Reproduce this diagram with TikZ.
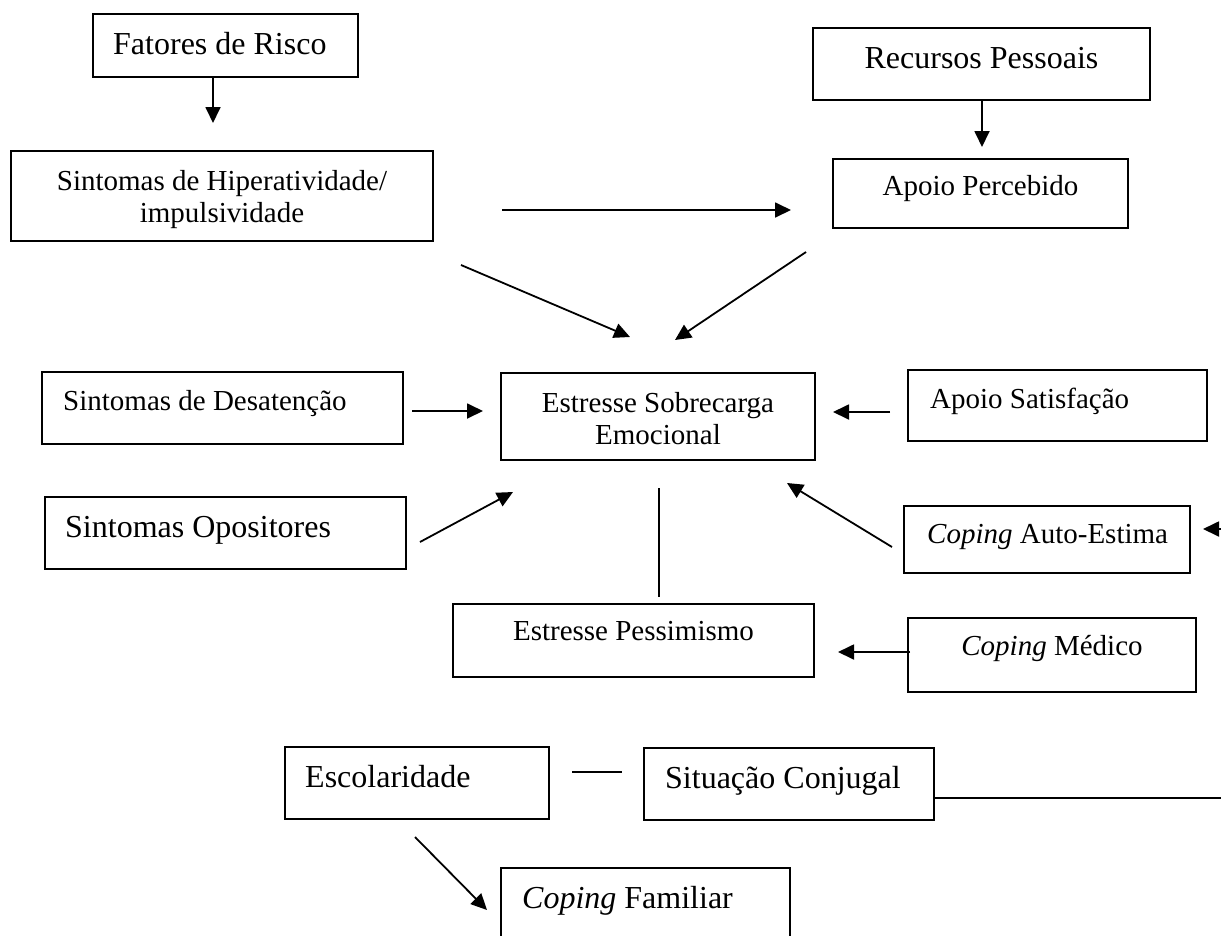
\documentclass[tikz,border=0pt]{standalone}
\usepackage{fontspec}
\setmainfont{Liberation Serif}
\usetikzlibrary{arrows.meta}
\tikzset{
  box/.style={draw, rectangle, line width=1.9pt, inner sep=0pt},
  big/.style={font=\fontsize{32}{38}\selectfont, inner sep=0pt},
  small/.style={font=\fontsize{29}{34}\selectfont, inner sep=0pt},
  conn/.style={line width=1.8pt, -{Triangle[length=16pt,width=15pt]}},
  plainline/.style={line width=1.8pt}
}
\begin{document}
\begin{tikzpicture}[x=1pt,y=-1pt]
\useasboundingbox (0,0) rectangle (1221,935);
\clip (0,0) rectangle (1221,935);
% boxes
\node[box, minimum width=265pt, minimum height=63pt] (fat) at (225.5,45.5) {};
\node[box, minimum width=337pt, minimum height=72pt] (rec) at (981.5,64) {};
\node[box, minimum width=295pt, minimum height=69pt] (ape) at (980.5,193.5) {};
\node[box, minimum width=422pt, minimum height=90pt] (hip) at (222,196) {};
\node[box, minimum width=361pt, minimum height=72pt] (des) at (222.5,408) {};
\node[box, minimum width=314pt, minimum height=87pt] (est) at (658,416.5) {};
\node[box, minimum width=299pt, minimum height=71pt] (sat) at (1057.5,405.5) {};
\node[box, minimum width=361pt, minimum height=72pt] (opo) at (225.5,533) {};
\node[box, minimum width=286pt, minimum height=67pt] (aut) at (1047,539.5) {};
\node[box, minimum width=361pt, minimum height=73pt] (pes) at (633.5,640.5) {};
\node[box, minimum width=288pt, minimum height=74pt] (med) at (1052,655) {};
\node[box, minimum width=264pt, minimum height=72pt] (esc) at (417,783) {};
\node[box, minimum width=290pt, minimum height=72pt] (sit) at (789,784) {};
\node[box, minimum width=289pt, minimum height=77pt] (fam) at (645.5,906.5) {};
% texts
\node[big, anchor=base west] (fatT) at (113,54) {Fatores de Risco};
\node[big, anchor=base] (recT) at (981.5,68) {Recursos Pessoais};
\node[small, anchor=base] (apeT) at (980.5,195) {Apoio Percebido};
\node[small, anchor=base] (hipT1) at (222,190) {Sintomas de Hiperatividade/};
\node[small, anchor=base] (hipT2) at (222,222) {impulsividade};
\node[small, anchor=base west] (desT) at (63,410) {Sintomas de Desatenção};
\node[small, anchor=base] (estT1) at (658,412) {Estresse Sobrecarga};
\node[small, anchor=base] (estT2) at (658,444) {Emocional};
\node[small, anchor=base west] (satT) at (930,408) {Apoio Satisfação};
\node[big, anchor=base west] (opoT) at (65,537) {Sintomas Opositores};
\node[small, anchor=base west] (autT) at (927,543) {\textit{Coping} Auto-Estima};
\node[small, anchor=base] (pesT) at (633.5,640) {Estresse Pessimismo};
\node[small, anchor=base] (medT) at (1052,655) {\textit{Coping} Médico};
\node[big, anchor=base west] (escT) at (305,787) {Escolaridade};
\node[big, anchor=base west] (sitT) at (665,788) {Situação Conjugal};
\node[big, anchor=base west] (famT) at (522,908) {\textit{Coping} Familiar};
% connector end points
\coordinate (a1s) at (213,77);   \coordinate (a1e) at (213,123);
\coordinate (a2s) at (982,100);  \coordinate (a2e) at (982,147);
\coordinate (a3s) at (502,210);  \coordinate (a3e) at (791,210);
\coordinate (a4s) at (461,265);  \coordinate (a4e) at (630,337);
\coordinate (a5s) at (806,252);  \coordinate (a5e) at (675,340);
\coordinate (a6s) at (412,411);  \coordinate (a6e) at (483,411);
\coordinate (a7s) at (890,412);  \coordinate (a7e) at (833,412);
\coordinate (a8s) at (420,542);  \coordinate (a8e) at (513,492);
\coordinate (a9s) at (659,488);  \coordinate (a9e) at (659,597);
\coordinate (a10s) at (892,547); \coordinate (a10e) at (787,483);
\coordinate (a11s) at (1225,529); \coordinate (a11e) at (1203,529);
\coordinate (a12s) at (910,652); \coordinate (a12e) at (838,652);
\coordinate (a13s) at (572,772); \coordinate (a13e) at (622,772);
\coordinate (a14s) at (sit.east |- 0,798); \coordinate (a14e) at (1225,798);
\coordinate (a15s) at (415,837); \coordinate (a15e) at (487,910);
% connectors
\draw[conn] (a1s) -- (a1e);
\draw[conn] (a2s) -- (a2e);
\draw[conn] (a3s) -- (a3e);
\draw[conn] (a4s) -- (a4e);
\draw[conn] (a5s) -- (a5e);
\draw[conn] (a6s) -- (a6e);
\draw[conn] (a7s) -- (a7e);
\draw[conn] (a8s) -- (a8e);
\draw[plainline] (a9s) -- (a9e);
\draw[conn] (a10s) -- (a10e);
\draw[conn] (a11s) -- (a11e);
\draw[conn] (a12s) -- (a12e);
\draw[plainline] (a13s) -- (a13e);
\draw[plainline] (a14s) -- (a14e);
\draw[conn] (a15s) -- (a15e);
\end{tikzpicture}
\end{document}
